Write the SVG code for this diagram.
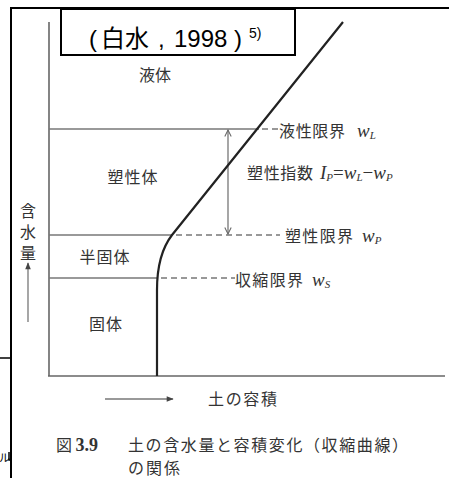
<svg xmlns="http://www.w3.org/2000/svg" width="449" height="478" viewBox="0 0 449 478">
<style>
.frame{stroke:#000;stroke-width:2;fill:none}
.ax{stroke:#666;stroke-width:1.6;fill:none}
.thin{stroke:#777;stroke-width:1.3;fill:none}
.dash{stroke:#777;stroke-width:1.3;stroke-dasharray:6 4;fill:none}
.curve{stroke:#222;stroke-width:2.2;fill:none}
.jp{font-family:"Noto Sans CJK JP","Noto Sans",sans-serif;fill:#333;font-size:16px}
.it{font-family:"Liberation Serif",serif;font-style:italic;fill:#333;font-size:19px}
.ttl{font-family:"Liberation Sans","Noto Sans CJK JP",sans-serif;fill:#000;font-size:24px}
</style>
<defs>
<marker id="open" viewBox="0 0 10 10" refX="9" refY="5" markerWidth="8" markerHeight="8" orient="auto-start-reverse" markerUnits="userSpaceOnUse">
<path d="M1,1 L9,5 L1,9" fill="none" stroke="#666" stroke-width="1.3"/>
</marker>
<marker id="fill" viewBox="0 0 10 10" refX="9" refY="5" markerWidth="9" markerHeight="7" orient="auto" markerUnits="userSpaceOnUse">
<path d="M0,1 L10,5 L0,9 Z" fill="#444"/>
</marker>
</defs>
<g id="frame">
<path class="frame" d="M449,8 H11 V478"/>
<line x1="0" y1="358" x2="11" y2="358" stroke="#000" stroke-width="1.5"/>
<text x="-1" y="462" font-family="Noto Sans CJK JP,sans-serif" font-size="11" fill="#000">ル</text>
<path d="M9,452 V460 H11" stroke="#000" stroke-width="1.5" fill="none"/>
</g>
<g id="title">
<rect x="61" y="9" width="234" height="46" fill="#fff" stroke="#000" stroke-width="2"/>
<text class="ttl" y="47"><tspan x="89">(</tspan><tspan x="101">白水</tspan><tspan x="158">,</tspan><tspan x="174">1998</tspan><tspan x="234">)</tspan><tspan x="249" y="38" font-size="14">5)</tspan></text>
</g>
<g id="axes">
<line class="ax" x1="49" y1="22" x2="49" y2="376"/>
<line class="ax" x1="48" y1="376" x2="445" y2="376"/>
</g>
<g id="connectors">
<line class="thin" x1="49" y1="129" x2="259" y2="129"/>
<line class="thin" x1="49" y1="235" x2="172" y2="235"/>
<line class="thin" x1="49" y1="278" x2="157" y2="278"/>
<line class="dash" x1="262" y1="129" x2="280" y2="129"/>
<line class="dash" x1="176" y1="235" x2="280" y2="235"/>
<line class="dash" x1="161" y1="278" x2="235" y2="278"/>
<line class="thin" x1="228" y1="130" x2="228" y2="234" marker-start="url(#open)" marker-end="url(#open)"/>
<line class="thin" x1="28" y1="322" x2="28" y2="263" marker-end="url(#fill)"/>
<line class="thin" x1="105" y1="399" x2="173" y2="399" marker-end="url(#fill)"/>
<path class="curve" d="M157,376 L157,290 C157,266 162,248 172,235 L343,22"/>
</g>
<g id="regions">
<text class="jp" x="155" y="81" text-anchor="middle">液体</text>
<text class="jp" x="133" y="183" text-anchor="middle" letter-spacing="1">塑性体</text>
<text class="jp" x="105" y="263" text-anchor="middle" letter-spacing="1">半固体</text>
<text class="jp" x="106" y="330" text-anchor="middle" letter-spacing="1">固体</text>
</g>
<g id="limits">
<text class="jp" x="279" y="137" textLength="66">液性限界</text>
<text class="it" x="357" y="137">w<tspan font-size="11" dy="2">L</tspan></text>
<text class="jp" x="285" y="242" textLength="68">塑性限界</text>
<text class="it" x="362" y="242">w<tspan font-size="11" dy="2">P</tspan></text>
<text class="jp" x="235" y="286" textLength="68">収縮限界</text>
<text class="it" x="312" y="286">w<tspan font-size="11" dy="2">S</tspan></text>
<text class="jp" x="247" y="179" textLength="66">塑性指数</text>
<text class="it" x="320" y="179">I<tspan font-size="11" dy="2">P</tspan><tspan dy="-2" font-style="normal">=</tspan>w<tspan font-size="11" dy="2">L</tspan><tspan dy="-2" font-style="normal">−</tspan>w<tspan font-size="11" dy="2">P</tspan></text>
</g>
<g id="axis-labels">
<text class="jp" x="28" y="203" font-size="14" letter-spacing="5" style="writing-mode:vertical-rl">含水量</text>
<text class="jp" x="208" y="405" textLength="69">土の容積</text>
</g>
<g id="caption">
<text class="jp" x="56" y="451" font-size="16">図 <tspan font-family="Liberation Serif,serif" font-weight="bold" font-size="18">3.9</tspan></text>
<text class="jp" x="128" y="451" font-size="16" textLength="280">土の含水量と容積変化（収縮曲線）</text>
<text class="jp" x="128" y="474" font-size="16" textLength="52">の関係</text>
</g>
</svg>
